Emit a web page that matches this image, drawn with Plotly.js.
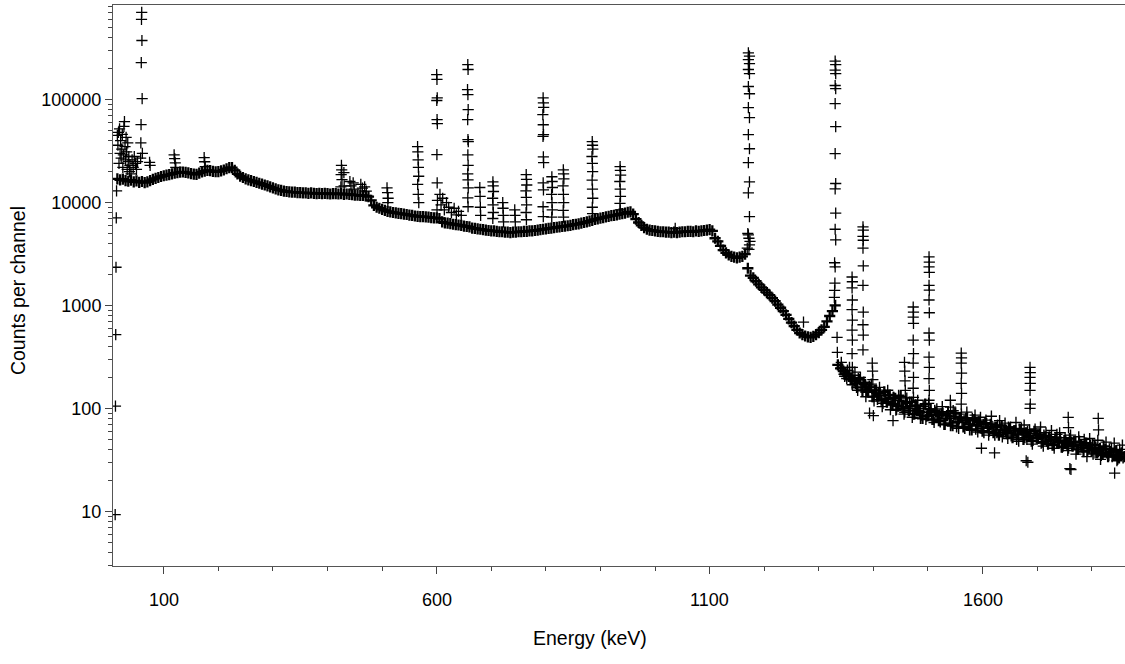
<!DOCTYPE html>
<html>
<head>
<meta charset="utf-8">
<script src="https://cdn.plot.ly/plotly-3.0.1.min.js"></script>
<style>
html,body{margin:0;padding:0;background:#fff;}
#chart{width:1125px;height:664px;}
</style>
</head>
<body>
<div id="chart"></div>
<script>
// Continuum: counts per channel, sampled every 5 keV starting at 15 keV
var contStart = 15, contStep = 5;
var continuum = [
17000,16600,16900,16300,16100,16500,15900,16200,15700,16000,
15600,15900,16300,16800,17200,17500,17900,18200,18500,18700,
19000,19300,19500,19700,19800,19600,19400,19100,18900,18800,
19300,19800,20200,20500,20400,20100,19900,20000,20300,20700,
21300,21800,21800,20500,19000,18000,17500,17000,16600,16300,
16000,15700,15400,15100,14800,14500,14200,13900,13600,13300,
13100,12900,12800,12700,12600,12600,12500,12500,12400,12400,
12300,12400,12300,12200,12300,12200,12300,12200,12100,12200,
12200,12100,12200,12000,12100,12000,11900,11800,11800,11700,
11700,11600,11400,10500,9400,9000,8800,8600,8400,8200,
8100,8000,7950,7850,7800,7700,7650,7550,7500,7400,
7350,7300,7300,7250,7200,7150,7100,7100,7000,6500,
6350,6300,6250,6150,6100,6050,6000,5900,5850,5800,
5650,5600,5550,5500,5450,5400,5350,5300,5300,5250,
5200,5200,5150,5150,5100,5150,5150,5200,5200,5250,
5250,5300,5300,5350,5400,5450,5500,5550,5600,5650,
5700,5750,5800,5850,5900,5950,6000,6100,6150,6200,
6300,6400,6500,6600,6700,6850,6950,7050,7150,7250,
7350,7450,7500,7600,7700,7800,7900,8050,8100,7700,
6900,6400,6000,5700,5500,5400,5350,5300,5250,5200,
5200,5150,5150,5100,5150,5100,5150,5200,5200,5250,
5250,5200,5300,5250,5300,5350,5400,5450,5300,4500,
4200,3800,3450,3250,3100,3000,2950,2900,2950,3000,
3150,2300,1950,1850,1720,1600,1500,1420,1330,1260,
1180,1100,1020,950,880,810,740,680,630,580,
540,520,505,495,490,500,520,545,580,620,
700,790,880,1000,265,245,230,215,205,195,
185,160,190,150,170,145,160,130,150,140,
120,145,115,135,110,125,105,130,100,115,
95,115,88,105,92,80,110,85,98,78,
92,76,88,70,85,80,68,90,74,82,
66,80,70,62,78,68,74,60,72,65,
70,58,66,55,68,62,57,64,52,61,
56,62,50,58,54,48,60,52,56,47,
53,45,50,44,52,47,42,49,45,51,
43,47,40,44,38,46,41,39,44,37,
41,36,40,34,38,35,39,33,37,34
];

// Extra high-energy channels between the 5 keV samples (noisy tail)
var tailStart = 1342.5, tailStep = 5;
var tail = [
250,205,235,190,210,175,195,160,180,150,
165,130,150,122,140,112,135,125,108,128,
98,120,104,92,112,100,88,108,95,86,
100,84,92,78,96,86,74,90,80,93,
72,84,66,79,73,64,81,70,76,63,
74,64,58,71,60,67,55,69,62,58,
59,66,54,61,50,63,57,52,60,55,
49,57,51,46,55,48,53,44,50,46,
52,43,48,41,47,45,40,48,42,46,
39,44,36,42,38,35,43,37,40,34,
38,32,36,33
];
var tail2Start = 1341.25, tail2Step = 5;
var tail2 = [
280,215,195,250,170,225,150,200,175,130,
150,172,118,140,160,104,133,150,97,128,
96,134,110,88,126,115,82,104,120,80,
105,78,112,90,73,99,86,104,70,92,
68,95,83,64,88,76,92,62,80,86,
59,82,70,77,55,84,66,58,76,53,
72,51,66,59,73,48,64,69,50,62,
45,63,55,66,43,58,52,61,41,56,
58,42,52,39,55,47,36,53,44,50,
34,51,45,37,49,32,43,47,35,41,
46,31,40,44
];

// Peaks, threshold and scattered channels (energy keV, counts)
var peakE = [
11.0,11.5,12.0,12.5,13.0,13.5,
15,16,17,18,19,20,21,22,23,24,25,26,27,28,29,30,31,32,33,34,35,36,37,38,40,42,44,46,48,50,52,
57.6,58.0,58.4,58.8,59.2,59.6,60.0,60.4,60.8,
74,75,
119,120,121,122,
174,175,176,
425.5,426,425,426.5,424.5,430,430.5,
441,443,447,449,461,464,468,471,
509,510,511,510.5,
565,565.5,566,566.5,567,565.2,566.2,567.2,
600,600.5,601,600.2,600.7,601.2,600.4,600.9,601.4,600.6,
606,608,611,614,618,622,627,632,636,640,645,
657,657.5,656.5,657.2,657.7,656.8,657.3,657.9,657.1,657.6,656.9,657.4,657.8,657.0,657.5,
679,679.5,680,680.5,
703,703.5,704,702.5,703.2,703.7,702.8,
721,721.5,722,722.5,
743,743.5,744,
764,764.5,765,763.5,764.2,764.7,763.8,764.4,
795,795.5,796,794.5,795.2,795.7,794.8,795.4,795.9,795.1,795.6,794.9,795.3,
811,811.5,812,810.5,811.2,811.7,810.8,
832,832.5,833,831.5,832.2,832.7,831.8,832.4,
885,885.5,886,884.5,885.2,885.7,884.8,885.4,885.9,885.1,885.6,
936,936.5,937,935.5,936.2,936.7,935.8,936.4,
1037,
1171,1173,1171,1173,1171,1173,1171,1173,1171,1173,1171,1173,1171,1173,1171,1173,1171,1173,1170,1172,1174,1169,1172,
1272,
1330,1331,1330,1331,1330,1331,1330,1331,1330,1331,1330,1331,1330,1331,1330,1329,1329.5,1329,1328.5,1333.5,1334,
1361,1361.5,1361,1361.5,1361,1361.5,1361,1361.5,1361,1361.5,
1381,1381.5,1381,1381.5,1381,1381.5,1381,1381.5,1381,1381.5,1381,
1398,1398.5,1399,
1457,1457.5,1458,1458.5,
1473,1473.5,1473,1473.5,1473,1473.5,1473,1473.5,1473,1473.5,
1502,1502.5,1502,1502.5,1502,1502.5,1502,1502.5,1502,1502.5,1502,1502.5,1502,1502.5,1502,
1541,1541.5,
1561,1561.5,1561,1561.5,1561,1561.5,1561,
1687,1687.5,1687,1687.5,1687,1687.5,1687,
1757,1757.5,1812,1812.5,
1393,1400,1436,1598,1622,1680,1683,1760,1762,1842
];
var peakC = [
9.3,105,520,2350,7100,13000,
45000,36000,48000,24000,52000,30000,40000,27000,33000,46000,22000,29000,55000,61000,35000,26000,43000,31000,21000,38000,25000,28000,20000,23000,19000,26000,22000,28000,24000,21000,25000,
27000,38000,57100,229000,601000,703000,375000,102000,30000,
24500,23000,
29000,26700,24300,22000,
27300,24900,22300,
23000,20800,18700,16700,14200,19500,14500,
16000,14500,15500,13500,15000,13800,14200,12900,
13900,12500,11000,10000,
35000,31000,26000,22000,18000,15000,12000,10000,
175000,157000,104000,98000,63800,58400,29200,15500,10500,8500,
12000,9500,11000,8500,10000,9000,8000,8800,7600,8200,7500,
219000,196000,125000,112000,80000,64000,40800,39000,29000,23000,19000,16600,13900,11100,9100,
14000,11500,9000,7500,
15900,14500,12800,11000,9500,8000,7000,
10000,8800,7500,6500,
8500,7500,6500,
18700,16800,14800,13000,11200,9500,8000,6800,
104000,93000,84000,71500,57000,45700,44000,27800,24400,15500,13300,9100,7300,
17800,16000,14000,12000,10000,8500,7200,
20800,19000,17000,14500,12000,10000,8400,7200,
39000,36000,33000,28000,24000,20000,16500,13500,11000,9000,7800,
22300,20500,18500,16000,13500,11500,9800,8500,
5600,
285000,264000,244000,224000,196000,179000,134000,114000,83600,66800,45600,33300,24400,15900,12400,7300,4860,3870,5000,4500,4200,3600,3500,
690,
236000,219000,193000,179000,137000,128000,91500,54600,29800,15300,13600,7900,5500,4330,2370,2600,1650,1400,1200,490,350,
1890,1700,1480,1130,910,720,575,460,340,250,
5800,5400,4700,4300,3600,2430,1570,860,650,515,370,
275,230,190,
280,230,185,150,
966,860,770,670,460,340,275,200,157,128,
2960,2640,2370,2100,1570,1410,1130,850,540,460,315,250,195,150,120,
120,103,
345,310,275,220,175,140,110,
250,223,200,175,150,110,100,
82,65,80,62,
90,85,76,41,37,31,30,26,25.5,23.5
];

// Axis ticks
var xMajor = [100, 600, 1100, 1600];
var xMajorText = ['100', '600', '1100', '1600'];
var xMinor = [200, 300, 400, 500, 700, 800, 900, 1000, 1200, 1300, 1400, 1500, 1700, 1800];
var yMajor = [10, 100, 1000, 10000, 100000];
var yMajorText = ['10', '100', '1000', '10000', '100000'];
var yMinor = [3,4,5,6,7,8,9,20,30,40,50,60,70,80,90,200,300,400,500,600,700,800,900,
  2000,3000,4000,5000,6000,7000,8000,9000,20000,30000,40000,50000,60000,70000,80000,90000,
  200000,300000,400000,500000,600000,700000,800000];

function energies(arr, start, step) { return arr.map(function(_, i){ return start + step * i; }); }
var contE = energies(continuum, contStart, contStep);
var tailE = energies(tail, tailStart, tailStep);
var tail2E = energies(tail2, tail2Start, tail2Step);

function mk(w) { return {symbol: 'cross-thin', size: 8, color: '#000', line: {color: '#000', width: w}}; }

var traces = [
  {x: contE, y: continuum, type: 'scatter', mode: 'markers', marker: mk(2.3), hoverinfo: 'x+y', name: 'continuum'},
  {x: tailE, y: tail, type: 'scatter', mode: 'markers', marker: mk(1.5), hoverinfo: 'x+y', name: 'tail'},
  {x: tail2E, y: tail2, type: 'scatter', mode: 'markers', marker: mk(1.4), hoverinfo: 'x+y', name: 'tail2'},
  {x: peakE, y: peakC, type: 'scatter', mode: 'markers', marker: mk(1.3), hoverinfo: 'x+y', name: 'peaks'}
];

var tickFont = {family: 'Liberation Sans, Arial, sans-serif', size: 18, color: '#000'};
var titleFont = {family: 'Liberation Sans, Arial, sans-serif', size: 19.5, color: '#000'};

var annotations = xMajor.map(function(v, i){
  return {text: xMajorText[i], xref: 'x', yref: 'paper', x: v, y: 0, yshift: -34,
          xanchor: 'center', yanchor: 'middle', showarrow: false, font: tickFont};
});
annotations.push(
  {text: 'Energy (keV)', xref: 'paper', yref: 'paper', x: 0.4713, y: 0, yshift: -72,
   xanchor: 'center', yanchor: 'middle', showarrow: false, font: titleFont},
  {text: 'Counts per channel', xref: 'paper', yref: 'paper', x: 0, xshift: -95, y: 0.49,
   xanchor: 'center', yanchor: 'middle', textangle: -90, showarrow: false, font: titleFont}
);

var layout = {
  width: 1125, height: 664,
  margin: {l: 113, r: 0, t: 5, b: 98},
  paper_bgcolor: '#fff', plot_bgcolor: '#fff',
  showlegend: false,
  xaxis: {
    range: [7, 1861],
    showgrid: false, zeroline: false,
    showline: true, linecolor: '#555', linewidth: 1, mirror: true,
    ticks: 'outside', ticklen: 7, tickwidth: 1, tickcolor: '#444',
    tickmode: 'array', tickvals: xMajor, ticktext: xMajorText,
    showticklabels: false,
    minor: {tickmode: 'array', tickvals: xMinor, ticks: 'outside', ticklen: 4, tickwidth: 1, tickcolor: '#444', showgrid: false}
  },
  yaxis: {
    type: 'log',
    range: [0.469, 5.919],
    showgrid: false, zeroline: false,
    showline: true, linecolor: '#555', linewidth: 1, mirror: false,
    ticks: 'outside', ticklen: 7, tickwidth: 1, tickcolor: '#444',
    tickmode: 'array', tickvals: yMajor, ticktext: yMajorText,
    tickfont: tickFont,
    minor: {tickmode: 'array', tickvals: yMinor, ticks: 'outside', ticklen: 4, tickwidth: 1, tickcolor: '#444', showgrid: false}
  },
  annotations: annotations
};

Plotly.newPlot('chart', traces, layout, {displayModeBar: false, staticPlot: true});
</script>
</body>
</html>
